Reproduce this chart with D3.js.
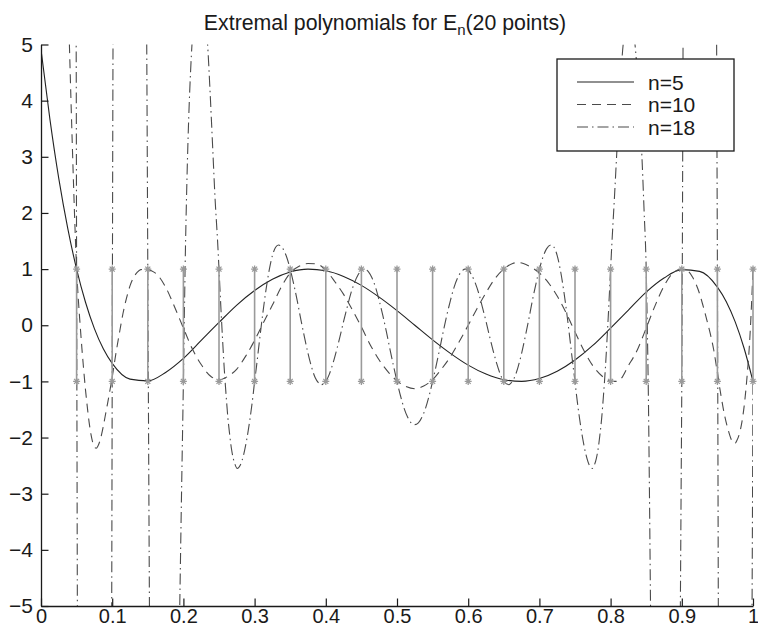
<!DOCTYPE html>
<html>
<head>
<meta charset="utf-8">
<script src="https://cdnjs.cloudflare.com/ajax/libs/d3/7.8.5/d3.min.js"></script>
<style>
  body { margin: 0; background: #fff; }
  svg { display: block; }
  text { font-family: "Liberation Sans", Arial, Helvetica, sans-serif; fill: #1a1a1a; }
</style>
</head>
<body>
<svg id="chart" width="758" height="628"></svg>
<script>
// ---- data ----
const xTicks = [0, 0.1, 0.2, 0.3, 0.4, 0.5, 0.6, 0.7, 0.8, 0.9, 1];
const yTicks = [-5, -4, -3, -2, -1, 0, 1, 2, 3, 4, 5];
const nodeX = [0.05, 0.1, 0.15, 0.2, 0.25, 0.3, 0.35, 0.4, 0.45, 0.5,
               0.55, 0.6, 0.65, 0.7, 0.75, 0.8, 0.85, 0.9, 0.95, 1.0];
const stemY = [-1, 1];
const seriesNames = ['n=5', 'n=10', 'n=18'];

const n5 = [[0, 4.91], [0.0125, 3.67], [0.025, 2.61], [0.0375, 1.73], [0.05, 1.0], [0.0625, 0.41],
  [0.075, -0.06], [0.0875, -0.42], [0.1, -0.68], [0.125, -0.96], [0.15, -0.99], [0.175, -0.84],
  [0.2, -0.59], [0.225, -0.27], [0.25, 0.05], [0.275, 0.36], [0.3, 0.62], [0.325, 0.82],
  [0.35, 0.95], [0.375, 1.0], [0.4, 0.97], [0.425, 0.87], [0.45, 0.71], [0.475, 0.5],
  [0.5, 0.26], [0.525, 0.0], [0.55, -0.26], [0.575, -0.5], [0.6, -0.71], [0.625, -0.87],
  [0.65, -0.97], [0.675, -1.0], [0.7, -0.95], [0.725, -0.82], [0.75, -0.62], [0.775, -0.36],
  [0.8, -0.05], [0.825, 0.27], [0.85, 0.59], [0.875, 0.84], [0.9, 0.99], [0.925, 0.96],
  [0.95, 0.68], [0.9625, 0.42], [0.975, 0.06], [0.9875, -0.41], [1.0, -1.0]];

const n10 = [[0, 40], [0.015, 20], [0.025, 13], [0.03, 10.2], [0.035, 7.4], [0.04, 4.95],
  [0.044, 3.2], [0.048, 1.65], [0.05, 1.0], [0.0525, 0.45], [0.055, 0.0], [0.0575, -0.42],
  [0.06, -0.8], [0.0625, -1.15], [0.065, -1.45], [0.0675, -1.72], [0.07, -1.93], [0.0725, -2.08],
  [0.075, -2.17], [0.0775, -2.19], [0.08, -2.15], [0.0825, -2.07], [0.085, -1.95], [0.0875, -1.8],
  [0.09, -1.63], [0.0925, -1.46], [0.095, -1.29], [0.0975, -1.11], [0.1, -0.93], [0.1025, -0.72],
  [0.105, -0.52], [0.1075, -0.33], [0.11, -0.15], [0.1125, 0.03], [0.115, 0.2], [0.12, 0.48],
  [0.125, 0.7], [0.13, 0.85], [0.135, 0.94], [0.14, 0.99], [0.1475, 1.0], [0.155, 0.97],
  [0.1625, 0.91], [0.175, 0.68], [0.1875, 0.33], [0.2, -0.05], [0.2125, -0.42], [0.225, -0.7],
  [0.2375, -0.9], [0.25, -0.97], [0.2625, -0.91], [0.275, -0.78], [0.2875, -0.55], [0.3, -0.27],
  [0.3125, 0.05], [0.325, 0.36], [0.3375, 0.68], [0.35, 0.93], [0.3625, 1.05], [0.375, 1.1],
  [0.3875, 1.09], [0.4, 0.98], [0.4125, 0.78], [0.425, 0.55], [0.4375, 0.27], [0.45, -0.03],
  [0.4625, -0.35], [0.475, -0.62], [0.4875, -0.83], [0.5, -0.99], [0.5125, -1.09], [0.525, -1.13],
  [0.5375, -1.08], [0.55, -0.97], [0.5625, -0.78], [0.575, -0.56], [0.5875, -0.29], [0.6, 0.0],
  [0.6125, 0.3], [0.625, 0.58], [0.6375, 0.83], [0.65, 1.0], [0.6625, 1.1], [0.67, 1.12],
  [0.6775, 1.1], [0.6875, 1.04], [0.7, 0.93], [0.7125, 0.76], [0.725, 0.52], [0.7375, 0.22],
  [0.75, -0.12], [0.7625, -0.45], [0.775, -0.72], [0.7875, -0.9], [0.8, -0.99], [0.8075, -1.0],
  [0.8125, -0.98], [0.825, -0.72], [0.8375, -0.44], [0.85, -0.05], [0.8625, 0.35], [0.875, 0.7],
  [0.8875, 0.93], [0.9, 1.0], [0.905, 0.98], [0.91, 0.95], [0.915, 0.86], [0.92, 0.73],
  [0.925, 0.56], [0.93, 0.34], [0.935, 0.1], [0.94, -0.15], [0.945, -0.45], [0.95, -0.85],
  [0.955, -1.25], [0.96, -1.6], [0.965, -1.86], [0.97, -2.05], [0.9725, -2.1], [0.975, -2.1],
  [0.9775, -2.05], [0.98, -1.97], [0.9825, -1.85], [0.985, -1.68], [0.9875, -1.45], [0.99, -1.15],
  [0.9925, -0.78], [0.995, -0.35], [0.9975, 0.25], [1.0, 1.0]];

const n18 = [[0, 60], [0.03, 30], [0.045, 13], [0.0485, 8], [0.0495, 4.5], [0.05, 1.0],
  [0.0505, -1.8], [0.051, -4.6], [0.0517, -8], [0.054, -16], [0.075, -60], [0.096, -16],
  [0.0985, -8], [0.0993, -5], [0.1, -1.0], [0.1007, 3], [0.1015, 6.5], [0.104, 16], [0.125, 60],
  [0.145, 16], [0.147, 8], [0.1485, 5], [0.15, 1.0], [0.1515, -3], [0.1525, -5.5], [0.155, -12],
  [0.172, -50], [0.19, -9.5], [0.1925, -7.0], [0.195, -4.9], [0.1975, -2.9], [0.2, -1.0],
  [0.2025, 1.1], [0.205, 2.6], [0.2075, 3.7], [0.21, 4.5], [0.2125, 5.1], [0.215, 5.55],
  [0.2175, 5.85], [0.22, 6.05], [0.223, 6.1], [0.2285, 5.75], [0.234, 5.0], [0.2375, 4.15],
  [0.241, 3.2], [0.2445, 2.25], [0.248, 1.5], [0.25, 1.0], [0.2525, 0.35], [0.255, -0.25],
  [0.2575, -0.8], [0.26, -1.25], [0.2625, -1.65], [0.265, -1.95], [0.2675, -2.2], [0.27, -2.37],
  [0.2725, -2.48], [0.2755, -2.55], [0.28, -2.49], [0.2845, -2.31], [0.289, -2.03], [0.2935, -1.67],
  [0.298, -1.23], [0.3, -1.0], [0.3025, -0.75], [0.307, -0.26], [0.3115, 0.21], [0.316, 0.63],
  [0.3205, 0.98], [0.325, 1.24], [0.3295, 1.39], [0.3335, 1.43], [0.34, 1.36], [0.345, 1.215],
  [0.35, 1.0], [0.355, 0.73], [0.36, 0.43], [0.365, 0.1], [0.37, -0.21], [0.375, -0.5],
  [0.38, -0.745], [0.385, -0.93], [0.39, -1.03], [0.393, -1.06], [0.4, -1.0], [0.405, -0.87],
  [0.41, -0.68], [0.415, -0.45], [0.42, -0.2], [0.425, 0.07], [0.43, 0.32], [0.435, 0.56],
  [0.44, 0.75], [0.445, 0.89], [0.45, 0.98], [0.454, 1.0], [0.46, 0.95], [0.465, 0.84],
  [0.47, 0.67], [0.475, 0.44], [0.48, 0.18], [0.485, -0.11], [0.49, -0.42], [0.495, -0.72],
  [0.5, -1.0], [0.505, -1.26], [0.51, -1.48], [0.515, -1.64], [0.52, -1.74], [0.525, -1.77],
  [0.53, -1.74], [0.535, -1.64], [0.54, -1.48], [0.545, -1.26], [0.55, -1.0], [0.555, -0.72],
  [0.56, -0.42], [0.565, -0.11], [0.57, 0.18], [0.575, 0.44], [0.58, 0.67], [0.585, 0.84],
  [0.59, 0.95], [0.596, 1.0], [0.6, 0.98], [0.605, 0.89], [0.61, 0.75], [0.615, 0.56],
  [0.62, 0.32], [0.625, 0.07], [0.63, -0.2], [0.635, -0.45], [0.64, -0.68], [0.645, -0.87],
  [0.65, -1.0], [0.657, -1.06], [0.66, -1.03], [0.665, -0.93], [0.67, -0.745], [0.675, -0.5],
  [0.68, -0.21], [0.685, 0.1], [0.69, 0.43], [0.695, 0.73], [0.7, 1.0], [0.705, 1.215],
  [0.71, 1.36], [0.7165, 1.43], [0.7205, 1.39], [0.725, 1.24], [0.7295, 0.98], [0.734, 0.63],
  [0.7385, 0.21], [0.743, -0.26], [0.7475, -0.75], [0.75, -1.0], [0.752, -1.23], [0.7565, -1.67],
  [0.761, -2.03], [0.7655, -2.31], [0.77, -2.49], [0.7745, -2.55], [0.7775, -2.48], [0.78, -2.37],
  [0.7825, -2.2], [0.785, -1.95], [0.7875, -1.65], [0.79, -1.25], [0.7925, -0.8], [0.795, -0.25],
  [0.7975, 0.35], [0.8, 1.0], [0.802, 1.5], [0.8055, 2.3], [0.809, 3.15], [0.8125, 4.0],
  [0.816, 4.75], [0.82, 5.25], [0.826, 5.5], [0.832, 5.25], [0.836, 4.75], [0.84, 4.0],
  [0.844, 3.0], [0.847, 2.05], [0.85, 1.0], [0.8515, 0.0], [0.853, -1.2], [0.8545, -2.9],
  [0.856, -4.9], [0.8575, -7], [0.86, -11], [0.877, -50], [0.895, -11], [0.8965, -8],
  [0.898, -5], [0.899, -3], [0.9, -1.0], [0.9007, 1], [0.9015, 4], [0.902, 6], [0.904, 11],
  [0.925, 60], [0.944, 16], [0.9475, 8], [0.9485, 6.5], [0.9493, 3.5], [0.95, 1.0],
  [0.9507, -2], [0.9513, -5], [0.952, -8], [0.955, -16], [0.975, -60], [0.995, -16],
  [0.997, -9], [0.9985, -5.5], [1.0, -1.0]];

const seriesData = [n5, n10, n18];

// ---- layout ----
const width = 758, height = 628;
const plot = { left: 41, right: 753, top: 44.5, bottom: 606 };

const svg = d3.select('#chart');
svg.append('rect').attr('width', width).attr('height', height).attr('fill', '#fff');

const x = d3.scaleLinear().domain([0, 1]).range([plot.left, plot.right]);
const y = d3.scaleLinear().domain([-5, 5]).range([plot.bottom, plot.top]);

svg.append('defs').append('clipPath').attr('id', 'plot-clip')
  .append('rect')
  .attr('x', plot.left).attr('y', plot.top)
  .attr('width', plot.right - plot.left).attr('height', plot.bottom - plot.top);

// line styles per series
const lineStyle = [
  { color: '#222', dash: null, width: 1.1 },
  { color: '#4a4a4a', dash: '9,6', width: 1.1 },
  { color: '#4a4a4a', dash: '11,4,1.5,4', width: 1.1 }
];

const line = d3.line()
  .x(d => x(d[0]))
  .y(d => y(d[1]))
  .curve(d3.curveMonotoneX);

const curves = svg.append('g').attr('clip-path', 'url(#plot-clip)');
seriesData.forEach((data, i) => {
  curves.append('path')
    .datum(data)
    .attr('d', line)
    .attr('fill', 'none')
    .attr('stroke', lineStyle[i].color)
    .attr('stroke-width', lineStyle[i].width)
    .attr('stroke-dasharray', lineStyle[i].dash);
});

// the 20 points: gray stems from -1 to 1 with star markers
const stems = svg.append('g');
const stemColor = '#9a9a9a';
nodeX.forEach(v => {
  stems.append('line')
    .attr('x1', x(v)).attr('x2', x(v))
    .attr('y1', y(stemY[0])).attr('y2', y(stemY[1]))
    .attr('stroke', stemColor)
    .attr('stroke-width', 1.6);
  stemY.forEach(s => {
    stems.append('path')
      .attr('transform', `translate(${x(v)},${y(s)})`)
      .attr('d', 'M-3.5,0H3.5M0,-3.5V3.5M-2.5,-2.5L2.5,2.5M-2.5,2.5L2.5,-2.5')
      .attr('stroke', stemColor)
      .attr('stroke-width', 1.3)
      .attr('fill', 'none');
  });
});

// axes (left and bottom only, ticks pointing inward)
const xAxis = d3.axisBottom(x)
  .tickValues(xTicks)
  .tickSizeInner(-7.5)
  .tickSizeOuter(0)
  .tickPadding(3)
  .tickFormat(d => (d === 0 || d === 1) ? String(d) : d3.format('.1f')(d));

const yAxis = d3.axisLeft(y)
  .tickValues(yTicks)
  .tickSizeInner(-7.5)
  .tickSizeOuter(0)
  .tickPadding(8)
  .tickFormat(d3.format('d'));

const gx = svg.append('g').attr('transform', `translate(0,${plot.bottom})`).call(xAxis);
const gy = svg.append('g').attr('transform', `translate(${plot.left},0)`).call(yAxis);

[gx, gy].forEach(g => {
  g.select('.domain').attr('stroke', '#1a1a1a').attr('stroke-width', 1.3);
  g.selectAll('.tick line').attr('stroke', '#1a1a1a').attr('stroke-width', 1.2);
  g.selectAll('.tick text')
    .attr('font-family', '"Liberation Sans", Arial, Helvetica, sans-serif')
    .attr('fill', '#1a1a1a');
});
gx.selectAll('.tick text').attr('font-size', 20);
gy.selectAll('.tick text').attr('font-size', 21);

// title with subscript
const title = svg.append('text')
  .attr('x', 385)
  .attr('y', 29.5)
  .attr('text-anchor', 'middle')
  .attr('font-size', 21.3);
title.append('tspan').text('Extremal polynomials for E');
title.append('tspan').attr('font-size', 15).attr('dy', 5).text('n');
title.append('tspan').attr('dy', -5).text('(20 points)');

// legend
const legend = svg.append('g');
legend.append('rect')
  .attr('x', 557).attr('y', 59)
  .attr('width', 177).attr('height', 92)
  .attr('fill', '#fff')
  .attr('stroke', '#1a1a1a')
  .attr('stroke-width', 1.3);

const rowY = [82, 104.5, 127];
seriesNames.forEach((name, i) => {
  legend.append('line')
    .attr('x1', 577).attr('x2', 634)
    .attr('y1', rowY[i]).attr('y2', rowY[i])
    .attr('stroke', lineStyle[i].color)
    .attr('stroke-width', lineStyle[i].width)
    .attr('stroke-dasharray', lineStyle[i].dash);
  legend.append('text')
    .attr('x', 648)
    .attr('y', rowY[i] + 7.5)
    .attr('font-size', 21)
    .text(name);
});
</script>
</body>
</html>
